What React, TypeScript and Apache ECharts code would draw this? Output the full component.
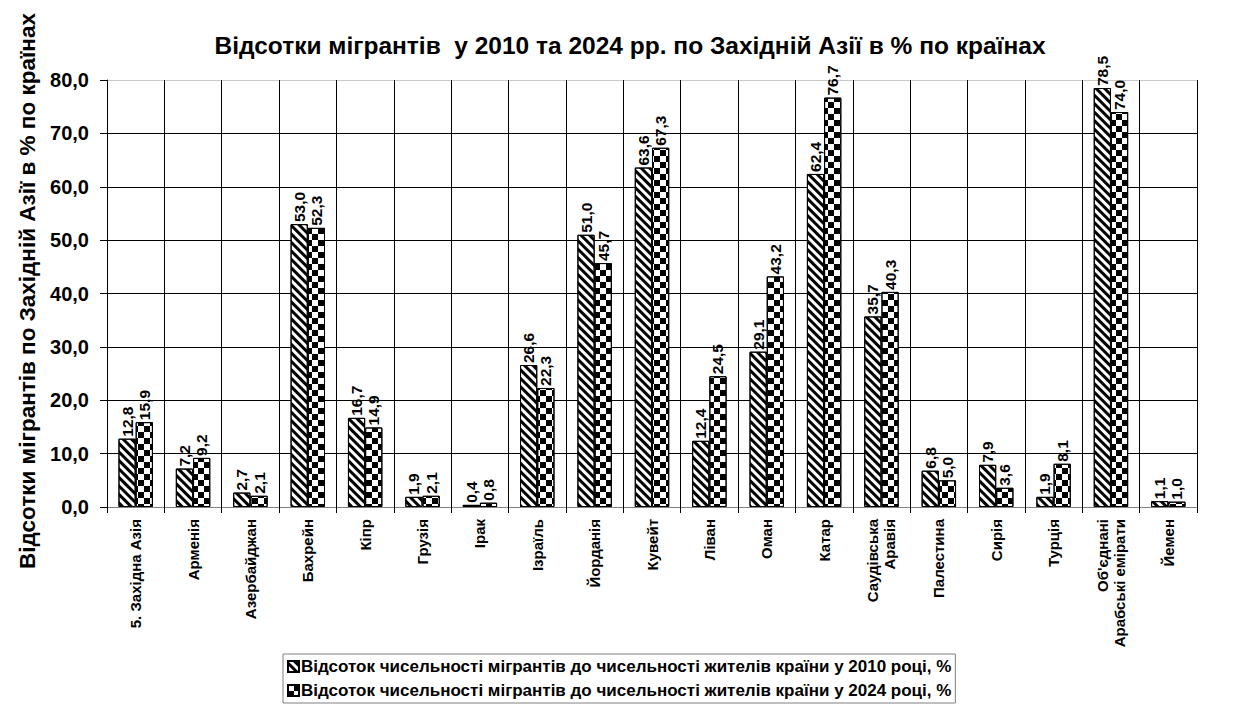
import React, { useEffect, useRef } from "react";
import * as echarts from "echarts";

const categories = [
  "5. Західна Азія",
  "Арменія",
  "Азербайджан",
  "Бахрейн",
  "Кіпр",
  "Грузія",
  "Ірак",
  "Ізраїль",
  "Йорданія",
  "Кувейт",
  "Ліван",
  "Оман",
  "Катар",
  "Саудівська\nАравія",
  "Палестина",
  "Сирія",
  "Турція",
  "Об'єднані\nАрабські емірати",
  "Йемен",
];

const values2010 = [12.8, 7.2, 2.7, 53.0, 16.7, 1.9, 0.4, 26.6, 51.0, 63.6, 12.4, 29.1, 62.4, 35.7, 6.8, 7.9, 1.9, 78.5, 1.1];
const values2024 = [15.9, 9.2, 2.1, 52.3, 14.9, 2.1, 0.8, 22.3, 45.7, 67.3, 24.5, 43.2, 76.7, 40.3, 5.0, 3.6, 8.1, 74.0, 1.0];

const seriesNames = [
  "Відсоток чисельності мігрантів до чисельності жителів країни у 2010 році, %",
  "Відсоток чисельності мігрантів до чисельності жителів країни у 2024 році, %",
];

const titleText = "Відсотки мігрантів  у 2010 та 2024 рр. по Західній Азії в % по країнах";
const yAxisTitle = "Відсотки мігрантів по Західній Азії в % по країнах";

const FONT = "'Liberation Sans', Arial, sans-serif";
const fmt = (v: number) => v.toFixed(1).replace(".", ",");

export default function App() {
  const ref = useRef<HTMLDivElement>(null);
  useEffect(() => {
    if (!ref.current) return;
    const chart = echarts.init(ref.current, null, { renderer: "svg" });
    const stripeDecal = {
      symbol: "rect",
      symbolSize: 1,
      color: "#000",
      backgroundColor: "#fff",
      dashArrayX: [1, 0],
      dashArrayY: [3, 3],
      rotation: Math.PI / 4,
    };
    const checkDecal = {
      symbol: "rect",
      symbolSize: 1,
      color: "#000",
      backgroundColor: "#fff",
      dashArrayX: [
        [5.6, 5.6],
        [0, 5.6, 5.6, 0],
      ],
      dashArrayY: [5.6, 0],
      rotation: 0,
    };
    const labelCfg = {
      show: true,
      position: "top" as const,
      rotate: 90,
      align: "left" as const,
      verticalAlign: "middle" as const,
      distance: 2,
      fontFamily: FONT,
      fontWeight: "bold" as const,
      fontSize: 15.5,
      color: "#000",
      formatter: (p: any) => fmt(p.value),
    };
    chart.setOption({
      animation: false,
      backgroundColor: "#fff",
      title: {
        text: titleText,
        left: 625,
        textAlign: "center",
        top: 28,
        textStyle: { fontFamily: FONT, fontWeight: "bold", fontSize: 24.5, color: "#000" },
      },
      graphic: [
        {
          type: "text",
          x: 27,
          y: 291,
          rotation: Math.PI / 2,
          style: {
            text: yAxisTitle,
            fontFamily: FONT,
            fontWeight: "bold",
            fontSize: 22.5,
            fill: "#000",
            textAlign: "center",
            textVerticalAlign: "middle",
          },
        },
      ],
      grid: { left: 107, right: 46, top: 80, bottom: 203, containLabel: false },
      legend: {
        orient: "vertical",
        left: 283,
        top: 654,
        itemGap: 7,
        itemWidth: 11,
        itemHeight: 11,
        padding: [4, 4, 4, 4],
        borderColor: "#808080",
        borderWidth: 1,
        icon: "rect",
        textStyle: { fontFamily: FONT, fontWeight: "bold", fontSize: 17, color: "#000", padding: [0, 0, 0, -3] },
        data: seriesNames,
      },
      xAxis: {
        type: "category",
        data: categories,
        axisLine: { lineStyle: { color: "#808080", width: 1 } },
        axisTick: { show: true, length: 6, lineStyle: { color: "#000" } },
        splitLine: { show: true, lineStyle: { color: "#000", width: 1 } },
        axisLabel: {
          interval: 0,
          rotate: 90,
          margin: 12,
          fontFamily: FONT,
          fontWeight: "bold",
          fontSize: 15,
          color: "#000",
          lineHeight: 17,
        },
      },
      yAxis: {
        type: "value",
        min: 0,
        max: 80,
        interval: 10,
        axisLine: { show: true, lineStyle: { color: "#000", width: 1 } },
        axisTick: { show: true, length: 7, lineStyle: { color: "#000" } },
        splitLine: {
          show: true,
          lineStyle: { color: ["#000", "#000", "#000", "#000", "#000", "#000", "#000", "#000", "#c8c8c8"], width: 1 },
        },
        axisLabel: {
          formatter: (v: number) => fmt(v),
          margin: 18,
          fontFamily: FONT,
          fontWeight: "bold",
          fontSize: 20,
          color: "#000",
        },
      },
      series: [
        {
          name: seriesNames[0],
          type: "bar",
          data: values2010,
          barGap: "0%",
          barCategoryGap: "40%",
          itemStyle: { color: "#fff", borderColor: "#000", borderWidth: 1, decal: stripeDecal },
          label: labelCfg,
        },
        {
          name: seriesNames[1],
          type: "bar",
          data: values2024,
          barGap: "0%",
          barCategoryGap: "40%",
          itemStyle: { color: "#fff", borderColor: "#000", borderWidth: 1, decal: checkDecal },
          label: labelCfg,
        },
      ],
    });
    return () => chart.dispose();
  }, []);
  return (
    <div
      ref={ref}
      style={{ position: "fixed", left: 0, top: 0, width: 1243, height: 710 }}
    />
  );
}
